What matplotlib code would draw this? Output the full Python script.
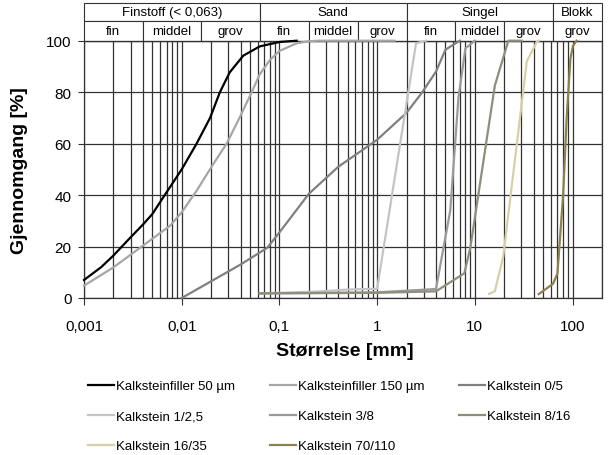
import matplotlib.pyplot as plt
import matplotlib.transforms as mtransforms
from matplotlib.patches import Rectangle
from matplotlib.ticker import LogLocator, NullFormatter

plt.rcParams['font.family'] = ['Liberation Sans', 'DejaVu Sans']

# Siktekurver: storrelse [mm] og gjennomgang [%]
labels = ["Kalksteinfiller 50 µm", "Kalksteinfiller 150 µm", "Kalkstein 0/5",
          "Kalkstein 1/2,5", "Kalkstein 3/8", "Kalkstein 8/16",
          "Kalkstein 16/35", "Kalkstein 70/110"]
colors = ["#000000", "#a6a6a6", "#808080", "#c4c4c4", "#9a9a9a", "#8f8d7b",
          "#d6d0a8", "#8c8050"]

x_f50 = [0.001, 0.0015, 0.002, 0.003, 0.004, 0.005, 0.0067, 0.01, 0.0142,
         0.0195, 0.0246, 0.031, 0.0427, 0.063, 0.1, 0.15]
y_f50 = [7.0, 12.0, 16.5, 23.6, 28.5, 32.6, 40, 50, 60, 70, 80, 87.7, 94.2,
         97.8, 99.5, 100]

x_f150 = [0.001, 0.002, 0.004, 0.0076, 0.01, 0.0142, 0.021, 0.0288, 0.039,
          0.052, 0.063, 0.08, 0.1, 0.15, 0.2, 0.25, 1.5]
y_f150 = [4.8, 11.9, 20.3, 28.1, 33.3, 41.7, 52, 60, 70, 80, 87, 92.5, 96,
          99, 99.8, 100, 100]

x_05 = [0.01, 0.02, 0.04, 0.075, 0.1, 0.2, 0.4, 1, 2, 2.9, 4, 5, 7]
y_05 = [0, 6.5, 13, 19.5, 25.5, 40.5, 51, 61.5, 72, 80, 88, 96.5, 100]

x_125 = [0.063, 0.25, 0.5, 1, 2.5, 3.15]
y_125 = [1.8, 2.5, 3.3, 3.6, 99, 100]

x_38 = [0.063, 1, 4, 5.6, 6.8, 8, 10]
y_38 = [1.8, 2.2, 3.5, 34, 78, 97, 100]

x_816 = [0.063, 1, 4, 7.8, 9, 16, 22, 30]
y_816 = [1.8, 2.0, 2.6, 9.6, 19.7, 82.5, 100, 100]

x_1635 = [14, 16, 19.5, 34, 43, 45]
y_1635 = [1.6, 2.6, 16, 92, 99.5, 100]

x_70110 = [45, 63, 70, 80, 87, 95, 101, 110]
y_70110 = [1.5, 5.5, 9.5, 40, 70, 93, 98, 100]

xs = [x_f50, x_f150, x_05, x_125, x_38, x_816, x_1635, x_70110]
ys = [y_f50, y_f150, y_05, y_125, y_38, y_816, y_1635, y_70110]

# Fraksjoner i toppen
main_edges = [0.001, 0.063, 2, 63, 200]
main_names = ["Finstoff (< 0,063)", "Sand", "Singel", "Blokk"]
sub_edges = [0.001, 0.004, 0.0158, 0.063, 0.2, 0.63, 2, 6.3, 20, 63, 200]
sub_names = ["fin", "middel", "grov", "fin", "middel", "grov",
             "fin", "middel", "grov", "grov"]

fig = plt.figure(figsize=(6.08, 4.56), dpi=100)
ax = fig.add_axes([84 / 608, 1 - 299 / 456, 518 / 608, 257.3 / 456])

handles = []
for x, y, c, lbl in zip(xs, ys, colors, labels):
    h, = ax.plot(x, y, color=c, lw=1.6, label=lbl, clip_on=False, zorder=3)
    handles.append(h)

ax.set_xscale('log')
ax.set_xlim(0.001, 200)
ax.set_ylim(0, 100)
ax.xaxis.set_minor_locator(LogLocator(base=10, subs=range(2, 10), numticks=20))
ax.xaxis.set_minor_formatter(NullFormatter())
ax.set_xticks([0.001, 0.01, 0.1, 1, 10, 100])
ax.set_xticklabels(["0,001", "0,01", "0,1", "1", "10", "100"])
ax.set_yticks([0, 20, 40, 60, 80, 100])

grid_c = "#333333"
ax.grid(axis='x', which='both', color=grid_c, lw=0.9)
ax.grid(axis='y', which='major', color=grid_c, lw=0.9)
ax.set_axisbelow(True)
ax.tick_params(axis='x', which='major', direction='out', length=5, width=0.8,
               color=grid_c, labelsize=11, pad=10)
ax.tick_params(axis='x', which='minor', length=0)
ax.tick_params(axis='y', direction='out', length=4, width=0.8, color=grid_c,
               labelsize=11, pad=5)
for s in ax.spines.values():
    s.set_color(grid_c)
    s.set_linewidth(0.9)

ax.set_xlabel("Størrelse [mm]", fontsize=14, fontweight='bold')
ax.set_ylabel("Gjennomgang [%]", fontsize=14, fontweight='bold')
ax.xaxis.set_label_coords(0.504, -0.17)
ax.yaxis.set_label_coords(-0.108, 0.5)

# Tabell over plottet
trans = mtransforms.blended_transform_factory(ax.transData, ax.transAxes)
r1, r2, r3 = 1.0, 1.0766, 1.1465
for a, b, name in zip(main_edges[:-1], main_edges[1:], main_names):
    ax.add_patch(Rectangle((a, r2), b - a, r3 - r2, transform=trans, facecolor='white',
                           edgecolor=grid_c, lw=0.8, clip_on=False))
    ax.text((a * b) ** 0.5, (r2 + r3) / 2, name, transform=trans, ha='center',
            va='center', fontsize=9.5)
for a, b, name in zip(sub_edges[:-1], sub_edges[1:], sub_names):
    ax.add_patch(Rectangle((a, r1), b - a, r2 - r1, transform=trans, facecolor='white',
                           edgecolor=grid_c, lw=0.8, clip_on=False))
    ax.text((a * b) ** 0.5, (r1 + r2) / 2, name, transform=trans, ha='center',
            va='center', fontsize=9.5)

order = [0, 3, 6, 1, 4, 7, 2, 5]
fig.legend([handles[i] for i in order], [labels[i] for i in order], ncol=3,
           loc='upper left', bbox_to_anchor=(88 / 608, 1 - 381 / 456),
           frameon=False, fontsize=9.5, handlelength=2.0, handletextpad=0.15,
           columnspacing=2.6, labelspacing=1.35, borderpad=0, borderaxespad=0)

fig.savefig("out.png", dpi=100)
